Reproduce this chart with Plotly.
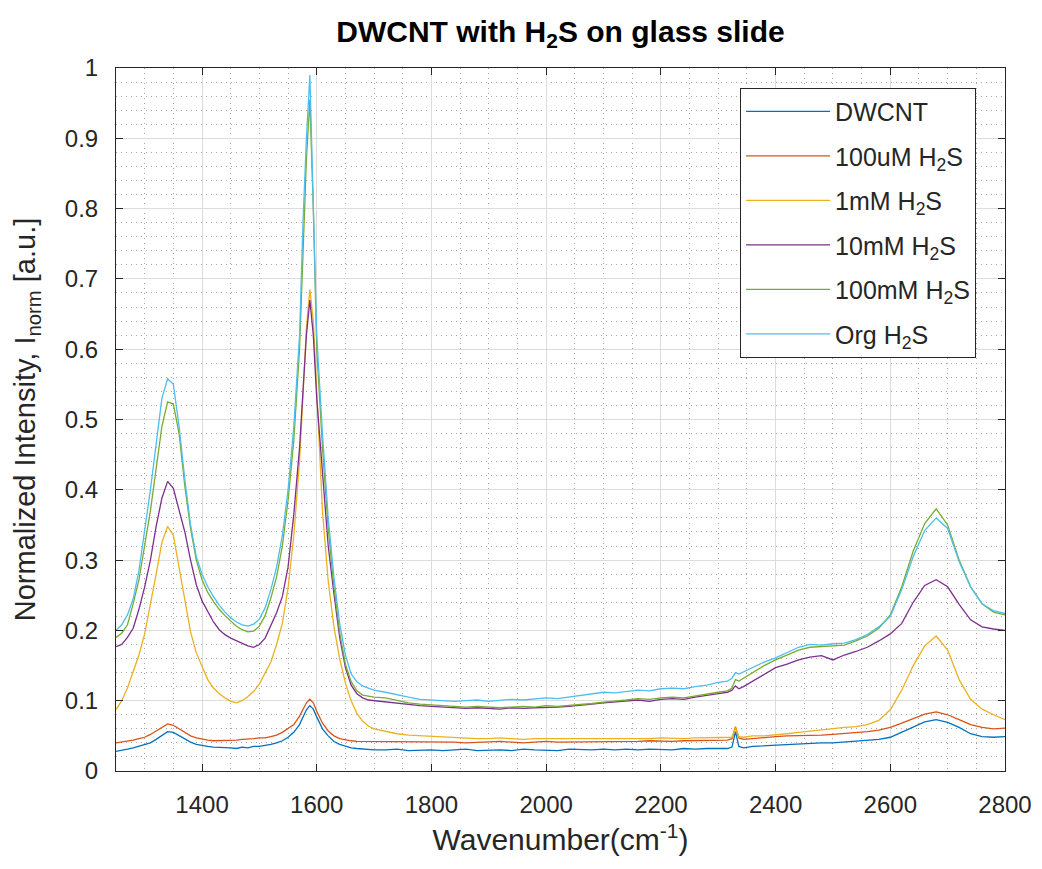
import plotly.graph_objects as go

# Raman shift axis (cm^-1), denser around the G band and the 2330 cm^-1 spike
wavenumber = [
    1250, 1260, 1270, 1280, 1290, 1300, 1310, 1320, 1330, 1340,
    1350, 1360, 1370, 1380, 1390, 1400, 1410, 1420, 1430, 1440,
    1450, 1460, 1470, 1480, 1490, 1500, 1510, 1520, 1530, 1540,
    1550, 1560, 1570, 1576, 1582, 1588, 1594, 1600, 1610, 1620,
    1630, 1640, 1650, 1660, 1670, 1680, 1690, 1700,
    1720, 1740, 1760, 1780, 1800, 1820, 1840, 1860, 1880, 1900,
    1920, 1940, 1960, 1980, 2000, 2020, 2040, 2060, 2080, 2100,
    2120, 2140, 2160, 2180, 2200, 2220, 2240, 2260, 2280, 2300,
    2316, 2324, 2330, 2336, 2344,
    2360, 2380, 2400, 2420, 2440, 2460, 2480, 2500, 2520, 2540,
    2560, 2580, 2600, 2620, 2640, 2660, 2680, 2700, 2720, 2740,
    2760, 2780, 2800,
]

dwcnt = [
    0.028, 0.029, 0.031, 0.033, 0.035, 0.037, 0.040, 0.045, 0.051, 0.056,
    0.055, 0.050, 0.045, 0.041, 0.038, 0.036, 0.035, 0.034, 0.034, 0.033,
    0.033, 0.032, 0.034, 0.033, 0.035, 0.035, 0.036, 0.038, 0.040, 0.043,
    0.048, 0.055, 0.066, 0.076, 0.087, 0.093, 0.088, 0.077, 0.060, 0.050,
    0.042, 0.038, 0.035, 0.033, 0.032, 0.031, 0.031, 0.030,
    0.030, 0.031, 0.029, 0.030, 0.030, 0.029, 0.030, 0.031, 0.029, 0.030,
    0.030, 0.029, 0.031, 0.030, 0.030, 0.029, 0.031, 0.030, 0.030, 0.031,
    0.030, 0.031, 0.030, 0.031, 0.031, 0.030, 0.032, 0.031, 0.032, 0.032,
    0.032, 0.034, 0.056, 0.035, 0.033,
    0.035, 0.036, 0.037, 0.037, 0.038, 0.039, 0.040, 0.040, 0.041, 0.042,
    0.043, 0.045, 0.048, 0.055, 0.063, 0.070, 0.073, 0.069, 0.062, 0.053,
    0.049, 0.048, 0.049,
]

h2s_100um = [
    0.040, 0.041, 0.042, 0.044, 0.046, 0.048, 0.052, 0.057, 0.063, 0.067,
    0.065, 0.060, 0.055, 0.050, 0.047, 0.045, 0.044, 0.043, 0.043, 0.044,
    0.043, 0.044, 0.045, 0.045, 0.046, 0.047, 0.047, 0.049, 0.051, 0.055,
    0.060, 0.066, 0.078, 0.088, 0.097, 0.102, 0.097, 0.085, 0.068, 0.057,
    0.050, 0.046, 0.044, 0.043, 0.042, 0.042, 0.041, 0.042,
    0.042, 0.041, 0.042, 0.041, 0.041, 0.042, 0.041, 0.040, 0.041, 0.041,
    0.042, 0.041, 0.040, 0.041, 0.042, 0.041, 0.041, 0.042, 0.041, 0.042,
    0.042, 0.041, 0.042, 0.043, 0.042, 0.042, 0.043, 0.043, 0.044, 0.044,
    0.044, 0.046, 0.063, 0.047, 0.045,
    0.046, 0.048, 0.049, 0.050, 0.050, 0.051, 0.051, 0.052, 0.053, 0.055,
    0.056, 0.058, 0.062, 0.068, 0.075, 0.081, 0.084, 0.080, 0.073, 0.066,
    0.062, 0.060, 0.061,
]

h2s_1mm = [
    0.087, 0.100, 0.118, 0.140, 0.165, 0.195, 0.235, 0.280, 0.325, 0.348,
    0.335, 0.290, 0.240, 0.198, 0.168, 0.148, 0.130, 0.118, 0.110, 0.104,
    0.099, 0.097, 0.100, 0.106, 0.113, 0.124, 0.140, 0.155, 0.180, 0.210,
    0.260, 0.335, 0.440, 0.530, 0.630, 0.685, 0.640, 0.540, 0.370, 0.270,
    0.205, 0.160, 0.125, 0.100, 0.082, 0.071, 0.064, 0.060,
    0.056, 0.053, 0.051, 0.050, 0.049, 0.048, 0.047, 0.047, 0.046, 0.046,
    0.047, 0.046, 0.045, 0.046, 0.046, 0.045, 0.046, 0.046, 0.045, 0.046,
    0.046, 0.045, 0.046, 0.046, 0.047, 0.046, 0.046, 0.047, 0.047, 0.047,
    0.047, 0.048, 0.062, 0.049, 0.048,
    0.050, 0.050, 0.051, 0.053, 0.055, 0.057, 0.059, 0.061, 0.062, 0.063,
    0.066, 0.072, 0.087, 0.115, 0.150, 0.178, 0.192, 0.172, 0.130, 0.102,
    0.088, 0.080, 0.073,
]

h2s_10mm = [
    0.177, 0.180, 0.190, 0.203, 0.230, 0.262, 0.300, 0.348, 0.388, 0.412,
    0.402, 0.372, 0.340, 0.300, 0.265, 0.242, 0.226, 0.212, 0.201, 0.194,
    0.189, 0.185, 0.181, 0.178, 0.176, 0.180, 0.189, 0.207, 0.225, 0.248,
    0.290, 0.365, 0.460, 0.540, 0.620, 0.670, 0.620, 0.530, 0.420, 0.320,
    0.252, 0.190, 0.147, 0.122, 0.110, 0.104, 0.101, 0.100,
    0.099, 0.097, 0.094, 0.093, 0.092, 0.091, 0.091, 0.089, 0.090, 0.089,
    0.088, 0.090, 0.089, 0.090, 0.090, 0.091, 0.092, 0.093, 0.095, 0.097,
    0.098, 0.100, 0.101, 0.099, 0.102, 0.103, 0.102, 0.105, 0.107, 0.110,
    0.112, 0.115, 0.121, 0.117, 0.120,
    0.128, 0.138, 0.147, 0.152, 0.158, 0.162, 0.164, 0.158, 0.165, 0.170,
    0.176, 0.185, 0.195, 0.210, 0.240, 0.264, 0.272, 0.262, 0.237, 0.215,
    0.205, 0.202, 0.200,
]

h2s_100mm = [
    0.190, 0.196, 0.208, 0.238, 0.272, 0.318, 0.370, 0.430, 0.490, 0.525,
    0.522, 0.480, 0.405, 0.345, 0.300, 0.272, 0.254, 0.241, 0.230, 0.221,
    0.213, 0.206, 0.201, 0.198, 0.199, 0.206, 0.221, 0.246, 0.276, 0.320,
    0.385, 0.470, 0.600, 0.750, 0.870, 0.955, 0.800, 0.600, 0.460, 0.345,
    0.262, 0.197, 0.152, 0.127, 0.114, 0.108, 0.106, 0.105,
    0.104, 0.100, 0.097, 0.095, 0.094, 0.093, 0.092, 0.091, 0.092, 0.091,
    0.090, 0.091, 0.092, 0.091, 0.093, 0.092, 0.093, 0.095, 0.096, 0.098,
    0.099, 0.101, 0.103, 0.102, 0.104, 0.105, 0.104, 0.107, 0.109, 0.112,
    0.114, 0.118, 0.130, 0.128, 0.132,
    0.140, 0.150, 0.158, 0.165, 0.172, 0.176, 0.177, 0.178, 0.179, 0.185,
    0.192, 0.203, 0.222, 0.262, 0.313, 0.352, 0.373, 0.350, 0.300, 0.262,
    0.238, 0.226, 0.222,
]

org_h2s = [
    0.200, 0.208, 0.222, 0.245, 0.285, 0.340, 0.400, 0.465, 0.530, 0.558,
    0.550, 0.490, 0.415, 0.350, 0.305, 0.280, 0.262, 0.248, 0.236, 0.226,
    0.218, 0.212, 0.208, 0.206, 0.209, 0.216, 0.232, 0.258, 0.290, 0.335,
    0.400, 0.490, 0.620, 0.780, 0.900, 0.990, 0.820, 0.620, 0.480, 0.360,
    0.275, 0.210, 0.165, 0.138, 0.127, 0.121, 0.118, 0.115,
    0.112, 0.108, 0.105, 0.102, 0.101, 0.100, 0.099, 0.100, 0.101, 0.099,
    0.100, 0.102, 0.101, 0.103, 0.104, 0.103, 0.105, 0.107, 0.110, 0.112,
    0.111, 0.113, 0.115, 0.114, 0.117, 0.118, 0.117, 0.120, 0.122, 0.126,
    0.128, 0.132, 0.140, 0.138, 0.141,
    0.148, 0.155, 0.161, 0.168, 0.176, 0.180, 0.179, 0.181, 0.182, 0.187,
    0.194, 0.205, 0.220, 0.258, 0.305, 0.342, 0.360, 0.345, 0.298, 0.262,
    0.238, 0.228, 0.224,
]

series_names = [
    "DWCNT",
    "100uM H<sub>2</sub>S",
    "1mM H<sub>2</sub>S",
    "10mM H<sub>2</sub>S",
    "100mM H<sub>2</sub>S",
    "Org H<sub>2</sub>S",
]
series_values = [dwcnt, h2s_100um, h2s_1mm, h2s_10mm, h2s_100mm, org_h2s]
series_colors = ["#0072BD", "#D95319", "#EDB120", "#7E2F8E", "#77AC30", "#4DBEEE"]

AXIS_COLOR = "#262626"
FONT = "Liberation Sans, Arial, Helvetica, sans-serif"

fig = go.Figure()
for i, (name, vals, col) in enumerate(zip(series_names, series_values, series_colors)):
    fig.add_trace(go.Scatter(
        x=wavenumber, y=vals, mode="lines", name=name,
        line=dict(color=col, width=1.3),
        legendgroup=f"g{i}",
    ))

axis_common = dict(
    showline=True, linecolor=AXIS_COLOR, linewidth=1, mirror="ticks",
    ticks="inside", ticklen=7, tickwidth=1, tickcolor=AXIS_COLOR,
    showgrid=True, gridcolor="#dcdcdc", gridwidth=1,
    zeroline=False,
    tickfont=dict(size=24, color=AXIS_COLOR, family=FONT),
)

minor_grid = dict(showgrid=True, gridcolor="#a6a6a6", griddash="1px,4px",
                  gridwidth=1, ticks="")

fig.update_xaxes(
    range=[1250, 2800], tick0=1200, dtick=200,
    ticklabelstandoff=12,
    minor=dict(dtick=50, tick0=1250, **minor_grid),
    title=dict(text="Wavenumber(cm<sup>-1</sup>)", standoff=12,
               font=dict(size=30, color=AXIS_COLOR, family=FONT)),
    **axis_common,
)
fig.update_yaxes(
    range=[0, 1], tick0=0, dtick=0.1,
    ticklabelstandoff=12,
    minor=dict(dtick=0.02, tick0=0, **minor_grid),
    title=dict(text="Normalized Intensity, I<sub>norm</sub> [a.u.]", standoff=20,
               font=dict(size=29, color=AXIS_COLOR, family=FONT)),
    **axis_common,
)

fig.update_layout(
    width=1042, height=869,
    margin=dict(l=116, r=37, t=68, b=98, autoexpand=False),
    paper_bgcolor="white", plot_bgcolor="white",
    font=dict(family=FONT, color=AXIS_COLOR, size=24),
    title=dict(
        text="<b>DWCNT with H<sub>2</sub>S on glass slide</b>",
        x=0.5, xref="paper", xanchor="center",
        y=1 - 31 / 869, yref="container", yanchor="middle",
        font=dict(size=30, color="#000000", family=FONT),
    ),
    legend=dict(
        x=0.702, y=0.972, xanchor="left", yanchor="top",
        bgcolor="white", bordercolor=AXIS_COLOR, borderwidth=1,
        font=dict(size=25, color=AXIS_COLOR, family=FONT),
        tracegroupgap=9, itemwidth=84,
    ),
)

fig.write_html("out.html")
